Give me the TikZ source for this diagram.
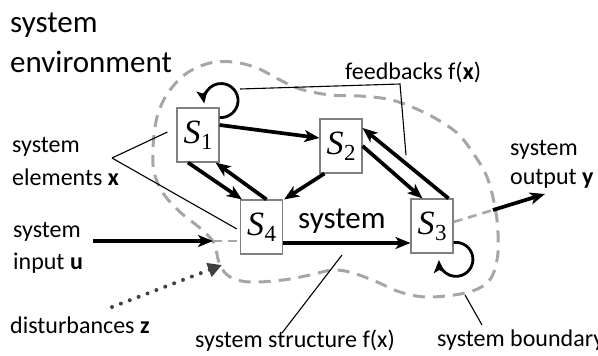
\documentclass[tikz,border=0pt]{standalone}
\usepackage{fontspec}
\setmainfont{Carlito}
\newfontfamily\elemfont{Liberation Serif}
\newcommand{\elemlabel}[1]{{\elemfont\itshape S}\kern0.5pt\raisebox{-6pt}{\fontsize{23}{23}\elemfont #1}}
\usetikzlibrary{arrows.meta}
\begin{document}
\begin{tikzpicture}[x=1pt,y=-1pt,
  elem/.style={draw=black!50, line width=1.1pt, fill=white, minimum width=42pt, minimum height=54pt, inner sep=0pt, font=\fontsize{34}{34}\selectfont},
  flow/.style={line width=3.7pt, -{Stealth[length=15pt,width=12pt,inset=4pt]}},
  loopar/.style={line width=2.8pt, -{Stealth[length=13pt,width=11pt,inset=3pt]}},
  annot/.style={line width=1.1pt},
  lbl/.style={font=\fontsize{24}{28}\selectfont, anchor=base west, inner sep=0pt},
  big/.style={font=\fontsize{31}{36}\selectfont, anchor=base west, inner sep=0pt},
  bound/.style={draw=black!35, line width=3pt, dash pattern=on 12pt off 8pt},
  bdash/.style={draw=black!35, line width=2.6pt, dash pattern=on 9pt off 6pt},
  dist/.style={draw=black!75, line width=4pt, dash pattern=on 0pt off 9.5pt, line cap=round, -{Triangle[length=14pt,width=14pt,fill=black!75,line cap=butt]}}
]
\useasboundingbox (0,0) rectangle (598,356);

% system boundary
\draw[bound] plot[smooth cycle, tension=0.6] coordinates {
 (153,150) (155,127) (160,108) (170,90) (187,73) (210,63) (233,62) (257,68) (280,80) (300,89)
 (330,95) (360,96) (387,99) (407,105) (433,117) (457,133) (473,153) (487,177) (495,207) (498,233)
 (497,260) (488,282) (465,293) (427,297) (400,292) (377,282) (353,273) (333,270) (310,275) (283,280)
 (250,282) (230,277) (220,265) (216,250) (212,240) (200,228) (180,212) (163,193) (154,172)};

% elements
\node[elem] (S1) at (198,135) {\elemlabel{1}};
\node[elem] (S2) at (341,146) {\elemlabel{2}};
\node[elem] (S4) at (261.5,227) {\elemlabel{4}};
\node[elem] (S3) at (432,226) {\elemlabel{3}};

% structure
\draw[flow] ([yshift=10pt]S1.east) -- ([yshift=8pt]S2.west);
\draw[flow] ([xshift=-10pt]S1.south) -- ([xshift=2pt]S4.north west);
\draw[flow] ([xshift=5pt]S4.north) -- ([xshift=-4pt]S1.south east);
\draw[flow] ([xshift=5pt]S2.south west) -- ([xshift=1pt]S4.north east);
\draw[flow] (S2.east) -- ([xshift=12pt]S3.north west);
\draw[flow] ([xshift=-5pt]S3.north east) -- ([yshift=18pt]S2.east);
\draw[flow] ([yshift=-16pt]S4.east) -- ([yshift=-17pt]S3.west);

% self loops
\draw[loopar] ([yshift=-10pt]S1.north east) arc[start angle=95, end angle=-190, radius=17];
\draw[loopar] ([yshift=11pt]S3.south east) arc[start angle=-98, end angle=178, radius=17];

% input
\coordinate (uin) at (93,241);
\coordinate (ub) at (213,241);
\draw[flow] (uin) -- (ub);
\draw[bdash] (ub) -- ([yshift=-14pt]S4.west);

% output
\coordinate (yb) at (493,210);
\coordinate (yout) at (545,194);
\draw[bdash] ([yshift=4pt]S3.east) -- (yb);
\draw[flow] (yb) -- (yout);

% disturbances
\coordinate (zs) at (112,307);
\coordinate (zb) at (222,265);
\draw[dist] (zs) -- (zb);

% annotation lines
\coordinate (ev) at (112,158);
\draw[annot] (ev) -- ([xshift=-9pt,yshift=3pt]S1.west);
\draw[annot] (ev) -- ([xshift=-3pt,yshift=-2pt]S4.west);
\coordinate (fb1) at (240,89);
\coordinate (fb2) at (400,84);
\coordinate (fb3) at (406,155);
\draw[annot] (fb1) -- (fb2) -- (fb3);
\coordinate (st1) at (342,255);
\coordinate (st2) at (282,333);
\draw[annot] (st1) -- (st2);
\coordinate (bd1) at (465,295);
\coordinate (bd2) at (482,325);
\draw[annot] (bd1) -- (bd2);

% texts
\node[big] (env1) at (10,32) {system};
\node[big] (env2) at (10,72) {environment};
\node[big] (sysl) at (298,228) {system};
\node[lbl] (fbl) at (345,79) {feedbacks f(\textbf{x})};
\node[lbl] (el1) at (12,152) {system};
\node[lbl] (el2) at (12,185) {elements \textbf{x}};
\node[lbl] (in1) at (13,237) {system};
\node[lbl] (in2) at (13,269) {input \textbf{u}};
\node[lbl] (dl) at (10,333) {disturbances \textbf{z}};
\node[lbl] (stl) at (195,347) {system structure f(x)};
\node[lbl] (bdl) at (437,346) {system boundary};
\node[lbl] (out1) at (510,155) {system};
\node[lbl] (out2) at (510,184) {output \textbf{y}};
\end{tikzpicture}
\end{document}
